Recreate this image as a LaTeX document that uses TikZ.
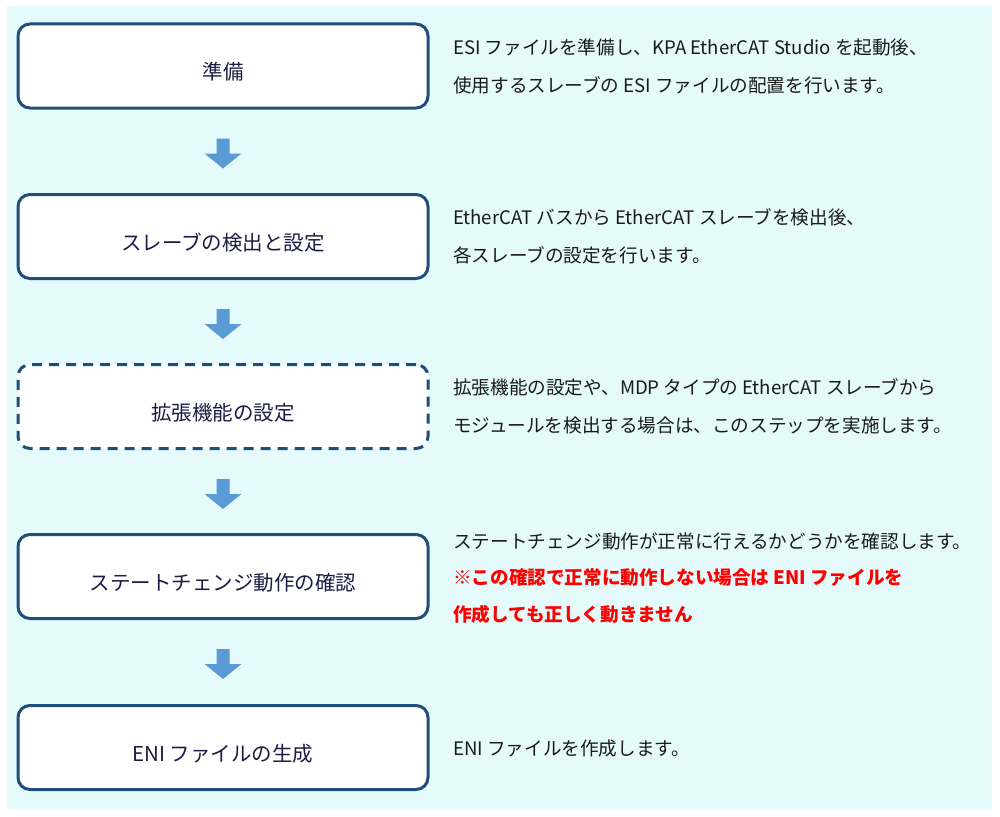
\documentclass[tikz,border=0pt]{standalone}
\usepackage{fontspec}
\setmainfont{Noto Sans CJK JP}
\usetikzlibrary{calc}
\definecolor{bgcyan}{HTML}{E4FAFB}
\definecolor{boxline}{HTML}{1F4E79}
\definecolor{boxtext}{HTML}{1C1C44}
\definecolor{arrowblue}{HTML}{5B9BD5}
\definecolor{desctext}{HTML}{1A1A1A}
\definecolor{warnred}{HTML}{FF0000}
\tikzset{
  stepbox/.style={draw=boxline, line width=3pt, rounded corners=12pt, fill=white,
    minimum width=410pt, minimum height=84pt, inner sep=0pt},
  optbox/.style={stepbox, dash pattern=on 10pt off 7pt},
  boxlabel/.style={inner sep=0pt, yshift=-6pt, text=boxtext, font=\fontsize{20.5}{23}\selectfont},
  desc/.style={anchor=west, inner sep=0pt, text=desctext, font=\fontsize{18.6}{21}\selectfont},
  warn/.style={desc, text=warnred, font=\fontsize{18.6}{21}\selectfont\bfseries},
}
\newcommand{\flowarrow}[2]{%
  \fill[arrowblue] ($(#1.south)+(-6.5,29)$) -- ($(#1.south)+(6.5,29)$) --
    ($(#1.south)+(6.5,44)$) -- ($(#1.south)+(18.5,44)$) -- ($(#1.south)+(0,59)$) --
    ($(#1.south)+(-18.5,44)$) -- ($(#1.south)+(-6.5,44)$) -- cycle;}
\begin{document}
\begin{tikzpicture}[x=1pt, y=-1pt]
\useasboundingbox (0,0) rectangle (1000,816);
\fill[bgcyan] (7,6) rectangle (992,809);

\node[stepbox, label={[boxlabel]center:準備}] (b1) at (223,66) {};
\node[stepbox, label={[boxlabel]center:スレーブの検出と設定}] (b2) at (223,236.5) {};
\node[optbox,  label={[boxlabel]center:拡張機能の設定}] (b3) at (223,406.5) {};
\node[stepbox, label={[boxlabel]center:ステートチェンジ動作の確認}] (b4) at (223,576.5) {};
\node[stepbox, label={[boxlabel]center:ENI ファイルの生成}] (b5) at (223,747.5) {};

\flowarrow{b1}{b2}
\flowarrow{b2}{b3}
\flowarrow{b3}{b4}
\flowarrow{b4}{b5}

\node[desc] (d1a) at (453,47) {ESI ファイルを準備し、KPA EtherCAT Studio を起動後、};
\node[desc] (d1b) at (453,85) {使用するスレーブの ESI ファイルの配置を行います。};
\node[desc] (d2a) at (453,217) {EtherCAT バスから EtherCAT スレーブを検出後、};
\node[desc] (d2b) at (453,255) {各スレーブの設定を行います。};
\node[desc] (d3a) at (453,387) {拡張機能の設定や、MDP タイプの EtherCAT スレーブから};
\node[desc] (d3b) at (453,425) {モジュールを検出する場合は、このステップを実施します。};
\node[desc] (d4a) at (453,541) {ステートチェンジ動作が正常に行えるかどうかを確認します。};
\node[warn] (d4b) at (453,578) {※この確認で正常に動作しない場合は ENI ファイルを};
\node[warn] (d4c) at (453,614) {作成しても正しく動きません};
\node[desc] (d5a) at (453,748) {ENI ファイルを作成します。};
\end{tikzpicture}
\end{document}
